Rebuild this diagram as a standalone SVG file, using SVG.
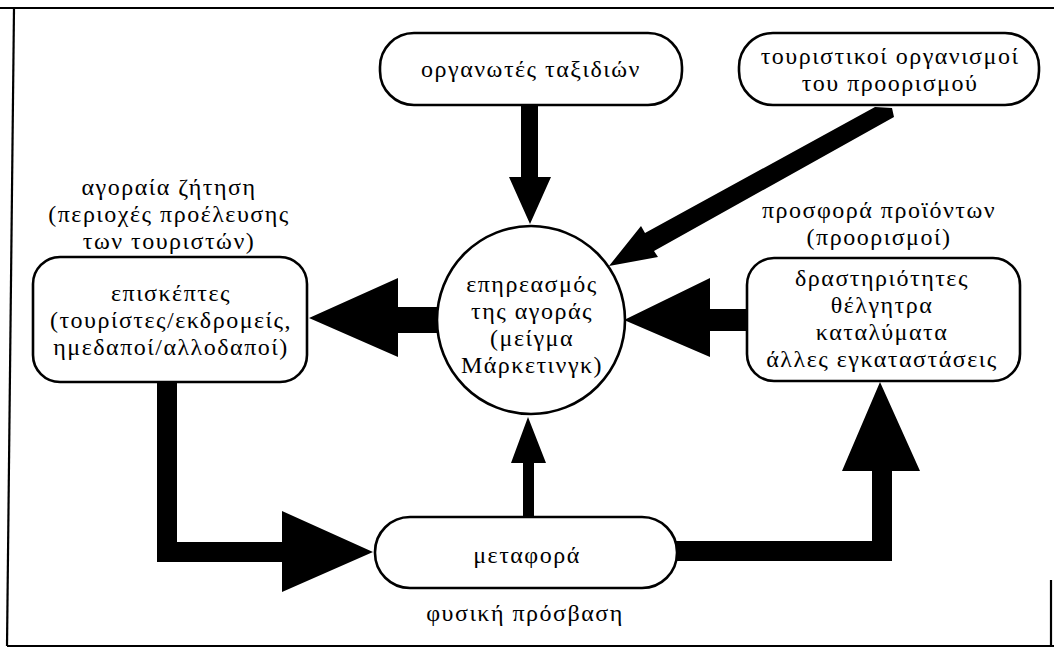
<svg xmlns="http://www.w3.org/2000/svg" width="1054" height="648" viewBox="0 0 1054 648">
  <style>
    .box { fill: #fff; stroke: #000; stroke-width: 2.6; }
    .lbl { font-family: "Liberation Serif", "DejaVu Serif", serif; font-size: 24px; letter-spacing: 1.5px; fill: #000; text-anchor: middle; }
    .flow { fill: #000; stroke: none; }
    .frame { fill: none; stroke: #000; stroke-width: 2.2; }
  </style>
  <rect width="1054" height="648" fill="#fff"/>

  <!-- outer frame -->
  <g id="frame">
    <line class="frame" x1="0" y1="8" x2="1054" y2="8"/>
    <line class="frame" x1="14" y1="8" x2="7" y2="646"/>
    <line class="frame" x1="7" y1="646" x2="1054" y2="646"/>
    <line class="frame" x1="1051" y1="580" x2="1051" y2="646"/>
  </g>

  <!-- connectors: thick filled arrows -->
  <g id="connectors">
    <!-- tour operators -> market influence -->
    <polygon class="flow" points="521,105 538,105 538,177 551,177 530,224 509,177 521,177"/>
    <!-- destination tourism organisations -> market influence -->
    <polygon class="flow" points="875,107 892,108 894,117 654,251 658,257 609,266 641,226 645,233"/>
    <!-- market influence -> visitors -->
    <polygon class="flow" points="438,307 438,333 398,333 398,357 309,318 398,278 398,307"/>
    <!-- supply -> market influence -->
    <polygon class="flow" points="747,309 747,331 710,331 710,357 624,320 710,278 710,309"/>
    <!-- visitors -> transport -->
    <polygon class="flow" points="157,382 177,382 177,542 282,542 282,511 373,552 282,592 282,562 157,562"/>
    <!-- transport -> supply -->
    <polygon class="flow" points="676,541 872,541 872,471 842,471 880,382 920,471 892,471 892,561 676,561"/>
    <!-- transport -> market influence -->
    <polygon class="flow" points="523,517 534,517 534,463 546,463 528,417 511,463 523,463"/>
  </g>

  <g id="tour-operators">
    <rect class="box" x="380" y="33" width="302" height="72" rx="34" ry="34"/>
    <text class="lbl" x="531" y="77">οργανωτές ταξιδιών</text>
  </g>

  <g id="destination-organisations">
    <rect class="box" x="739" y="33" width="300" height="72" rx="34" ry="34"/>
    <text class="lbl" x="890" y="64">τουριστικοί οργανισμοί</text>
    <text class="lbl" x="890" y="91">του προορισμού</text>
  </g>

  <g id="market-influence">
    <circle class="box" cx="531" cy="320" r="94"/>
    <text class="lbl" x="532" y="292">επηρεασμός</text>
    <text class="lbl" x="532" y="319">της αγοράς</text>
    <text class="lbl" x="532" y="346">(μείγμα</text>
    <text class="lbl" x="532" y="373">Μάρκετινγκ)</text>
  </g>

  <g id="visitors">
    <text class="lbl" x="169" y="195">αγοραία ζήτηση</text>
    <text class="lbl" x="169" y="222">(περιοχές προέλευσης</text>
    <text class="lbl" x="169" y="249">των τουριστών)</text>
    <rect class="box" x="33" y="257" width="274" height="125" rx="27" ry="27"/>
    <text class="lbl" x="171" y="301">επισκέπτες</text>
    <text class="lbl" x="171" y="328">(τουρίστες/εκδρομείς,</text>
    <text class="lbl" x="171" y="355">ημεδαποί/αλλοδαποί)</text>
  </g>

  <g id="supply">
    <text class="lbl" x="879" y="218">προσφορά προϊόντων</text>
    <text class="lbl" x="879" y="245">(προορισμοί)</text>
    <rect class="box" x="747" y="258" width="273" height="123" rx="27" ry="27"/>
    <text class="lbl" x="882" y="286">δραστηριότητες</text>
    <text class="lbl" x="882" y="313">θέλγητρα</text>
    <text class="lbl" x="882" y="340">καταλύματα</text>
    <text class="lbl" x="882" y="367">άλλες εγκαταστάσεις</text>
  </g>

  <g id="transport">
    <rect class="box" x="375" y="517" width="302" height="71" rx="35" ry="35"/>
    <text class="lbl" x="527" y="563">μεταφορά</text>
    <text class="lbl" x="525" y="621">φυσική πρόσβαση</text>
  </g>
</svg>
